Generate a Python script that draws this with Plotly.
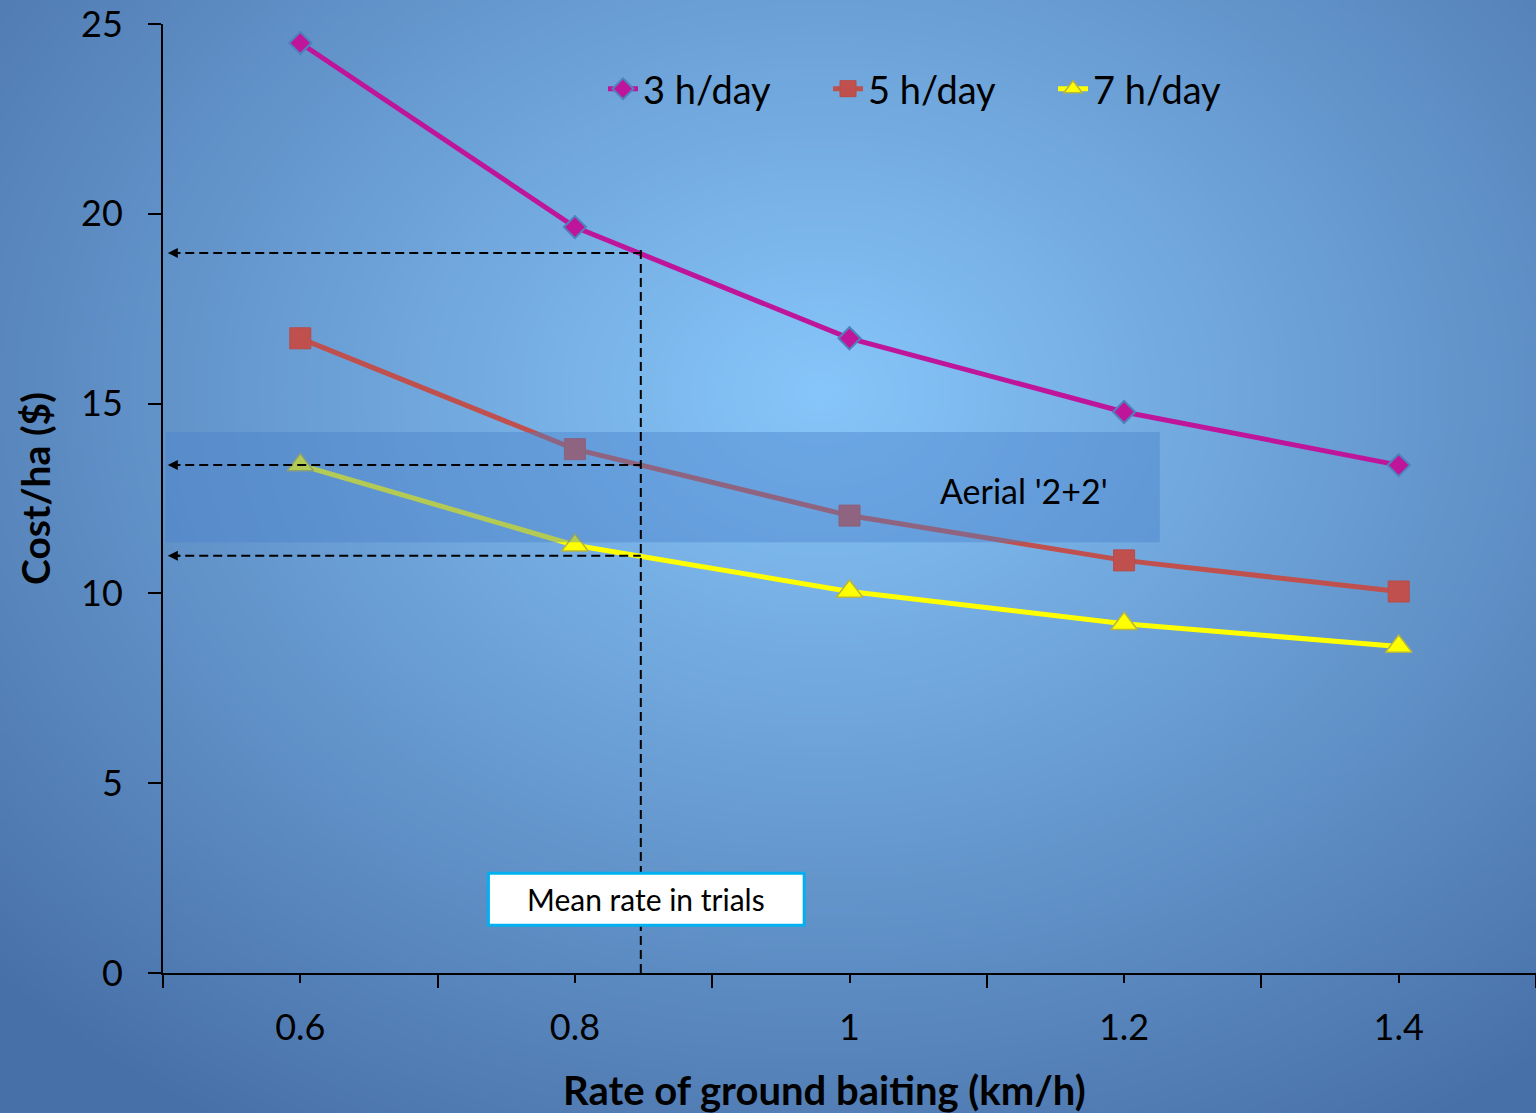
import base64, struct, zlib
import numpy as np
import plotly.graph_objects as go

# ---------------- data ----------------
x_rate = [0.6, 0.8, 1.0, 1.2, 1.4]
cost_3h = [24.5, 19.65, 16.72, 14.78, 13.38]
cost_5h = [16.72, 13.8, 12.05, 10.87, 10.05]
cost_7h = [13.38, 11.27, 10.05, 9.2, 8.6]
series_names = ["3 h/day", "5 h/day", "7 h/day"]

mean_rate = 0.848
mean_costs = [18.97, 13.38, 10.99]
aerial_band_y = [11.35, 14.25]
aerial_band_x = [0.5, 1.226]

x_ticks = [0.6, 0.8, 1.0, 1.2, 1.4]
x_tick_text = ["0.6", "0.8", "1", "1.2", "1.4"]
x_minor_ticks = [0.5, 0.7, 0.9, 1.1, 1.3, 1.5]
y_ticks = [0, 5, 10, 15, 20, 25]

# ---------------- geometry ----------------
W, H = 1536, 1113
ML, MR, MT, MB = 163, 0, 24, 140
PW, PH = W - ML - MR, H - MT - MB
FONT = "Lato"


def gradient_png(w, h):
    ys, xs = np.mgrid[0:h, 0:w].astype(float)
    sx, sy = W / w, H / h
    xs = xs * sx
    ys = ys * sy
    cx, cy, rx, ry = 820.0, 390.0, 900.0, 700.0
    d = np.sqrt(((xs - cx) / rx) ** 2 + ((ys - cy) / ry) ** 2)
    t = np.clip(d / 1.25, 0, 1)
    c0 = np.array([135, 198, 250], float)
    c1 = np.array([72, 112, 168], float)
    img = c0[None, None, :] + (c1 - c0)[None, None, :] * t[..., None]
    img = np.clip(img, 0, 255).astype(np.uint8)
    raw = b"".join(b"\x00" + img[i].tobytes() for i in range(h))

    def chunk(tag, data):
        return (struct.pack(">I", len(data)) + tag + data +
                struct.pack(">I", zlib.crc32(tag + data) & 0xFFFFFFFF))

    png = (b"\x89PNG\r\n\x1a\n" +
           chunk(b"IHDR", struct.pack(">IIBBBBB", w, h, 8, 2, 0, 0, 0)) +
           chunk(b"IDAT", zlib.compress(raw, 9)) + chunk(b"IEND", b""))
    return "data:image/png;base64," + base64.b64encode(png).decode()


fig = go.Figure()

fig.add_trace(go.Scatter(
    x=x_rate, y=cost_3h, name=series_names[0], mode="lines+markers",
    line=dict(color="#bf159b", width=5),
    marker=dict(symbol="diamond", size=17, color="#bf159b",
                line=dict(color="#4f81bd", width=2))))
fig.add_trace(go.Scatter(
    x=x_rate, y=cost_5h, name=series_names[1], mode="lines+markers",
    line=dict(color="#c0504d", width=5),
    marker=dict(symbol="square", size=21, color="#c0504d",
                line=dict(color="#b84a47", width=1))))
fig.add_trace(go.Scatter(
    x=x_rate, y=cost_7h, name=series_names[2], mode="lines+markers",
    line=dict(color="#ffff00", width=5),
    marker=dict(symbol="triangle-up", size=23, color="#ffff00",
                line=dict(color="#b5b541", width=1.5))))

DASH = "9px,5px"
shapes = []
# aerial band (drawn above traces)
shapes.append(dict(type="rect", xref="x", yref="y", layer="above",
                   x0=aerial_band_x[0] + 0.002, x1=aerial_band_x[1],
                   y0=aerial_band_y[0], y1=aerial_band_y[1],
                   fillcolor="rgba(75,129,202,0.42)", line=dict(width=0)))
# dashed reading lines
for v in mean_costs:
    shapes.append(dict(type="line", xref="x", yref="y", layer="above",
                       x0=0.506, x1=mean_rate, y0=v, y1=v,
                       line=dict(color="black", width=2, dash=DASH)))
shapes.append(dict(type="line", xref="x", yref="y", layer="above",
                   x0=mean_rate, x1=mean_rate, y0=0, y1=max(mean_costs) + 0.08,
                   line=dict(color="black", width=2, dash=DASH)))
# label box
shapes.append(dict(type="rect", xref="x", yref="y", layer="above",
                   x0=0.737, x1=0.967, y0=1.26, y1=2.63,
                   fillcolor="white", line=dict(color="#00b0f0", width=3)))

annotations = []
for v in mean_costs:
    annotations.append(dict(x=0.5035, y=v, xref="x", yref="y", ax=14, ay=0,
                            text="", showarrow=True, arrowhead=2, arrowsize=1,
                            arrowwidth=2, arrowcolor="black", standoff=0))
annotations.append(dict(x=0.852, y=1.945, xref="x", yref="y", showarrow=False,
                        xanchor="center", yanchor="middle",
                        text="Mean rate in trials",
                        font=dict(family=FONT, size=30, color="black")))
annotations.append(dict(x=1.127, y=12.72, xref="x", yref="y", showarrow=False,
                        xanchor="center", yanchor="middle",
                        text="Aerial '2+2'",
                        font=dict(family=FONT, size=34, color="black")))
annotations.append(dict(x=(824 - ML) / PW, y=-(1090 - MT - PH) / PH,
                        xref="paper", yref="paper", showarrow=False,
                        xanchor="center", yanchor="middle",
                        text="<b>Rate of ground baiting (km/h)</b>",
                        font=dict(family=FONT, size=40, color="black")))
annotations.append(dict(x=-(ML - 35) / PW, y=(MT + PH - 489) / PH,
                        xref="paper", yref="paper", showarrow=False,
                        xanchor="center", yanchor="middle",
                        textangle=-90, text="<b>Cost/ha ($)</b>",
                        font=dict(family=FONT, size=39, color="black")))

fig.update_layout(
    width=W, height=H,
    margin=dict(l=ML, r=MR, t=MT, b=MB, pad=0),
    paper_bgcolor="rgba(0,0,0,0)", plot_bgcolor="rgba(0,0,0,0)",
    font=dict(family=FONT, color="black"),
    images=[dict(source=gradient_png(512, 371), xref="paper", yref="paper",
                 x=-ML / PW, y=1 + MT / PH, sizex=W / PW, sizey=H / PH,
                 xanchor="left", yanchor="top", sizing="stretch",
                 layer="below")],
    shapes=shapes, annotations=annotations,
    showlegend=True,
    legend=dict(orientation="h", x=(603 - ML) / PW, y=(MT + PH - 89) / PH,
                xanchor="left", yanchor="middle",
                bgcolor="rgba(0,0,0,0)", borderwidth=0,
                font=dict(family=FONT, size=38, color="black"),
                entrywidth=180, entrywidthmode="pixels",
                itemclick=False),
    xaxis=dict(range=[0.5, 1.5], showgrid=False, zeroline=False,
               showline=True, linecolor="black", linewidth=2,
               tickmode="array", tickvals=x_ticks, ticktext=x_tick_text,
               ticks="outside", ticklen=8, tickwidth=2, tickcolor="black",
               tickfont=dict(family=FONT, size=36, color="black"),
               ticklabelstandoff=14,
               minor=dict(tickmode="array", tickvals=x_minor_ticks,
                          ticks="outside", ticklen=13, tickwidth=2,
                          tickcolor="black", showgrid=False)),
    yaxis=dict(range=[0, 25], showgrid=False, zeroline=False,
               showline=True, linecolor="black", linewidth=2,
               tickmode="array", tickvals=y_ticks,
               ticks="outside", ticklen=13, tickwidth=2, tickcolor="black",
               tickfont=dict(family=FONT, size=36, color="black"),
               ticklabelstandoff=18),
)

fig.write_html(
    "out.html",
    config={"displayModeBar": False},
    post_script="document.body.style.margin='0';"
                "document.body.style.overflow='hidden';"
                "document.body.style.background='rgb(72,112,168)';",
)
